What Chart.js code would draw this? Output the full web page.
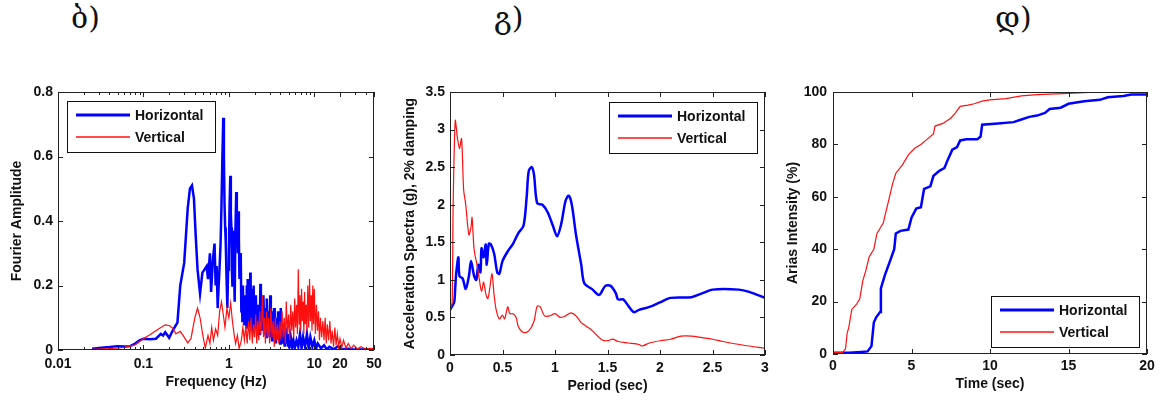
<!DOCTYPE html>
<html>
<head>
<meta charset="utf-8">
<script src="https://cdn.jsdelivr.net/npm/chart.js@4.4.1/dist/chart.umd.min.js"></script>
<style>
    body { margin: 0; background: #fff; width: 1160px; height: 401px; position: relative; overflow: hidden; }
    canvas { position: absolute; top: 0; }
    .tag { position: absolute; top: 0px; font-family: "DejaVu Serif", "DejaVu Sans", serif; font-size: 30px; color: #111; }
</style>
</head>
<body>
<div class="tag" style="left:71px">ბ)</div>
<div class="tag" style="left:494px">გ)</div>
<div class="tag" style="left:995px">დ)</div>
<canvas id="fourierChart" width="390" height="401" style="left:0px"></canvas>
<canvas id="spectraChart" width="390" height="401" style="left:390px"></canvas>
<canvas id="ariasChart" width="380" height="401" style="left:780px"></canvas>
<script>
// Fourier amplitude spectra (Hz, amplitude)
const fourierFreqH = [0.025, 0.03, 0.04, 0.05, 0.06, 0.07, 0.08, 0.09, 0.1, 0.12, 0.14, 0.16, 0.17, 0.18, 0.2, 0.22, 0.25, 0.27, 0.3, 0.33, 0.35, 0.37, 0.39, 0.41, 0.43, 0.46, 0.49, 0.52, 0.55, 0.57, 0.6, 0.62, 0.65, 0.68, 0.7, 0.72, 0.74,
    0.76, 0.78, 0.8, 0.82, 0.84, 0.86, 0.875, 0.89, 0.905, 0.92, 0.94, 0.96, 0.98, 1.0, 1.02, 1.04, 1.055, 1.07, 1.085, 1.1, 1.115, 1.13, 1.15, 1.17, 1.19, 1.22, 1.24, 1.26, 1.275, 1.29, 1.31, 1.33, 1.355, 1.38, 1.4,
    1.42, 1.44, 1.46, 1.48, 1.5, 1.52, 1.54, 1.56, 1.58, 1.6, 1.62, 1.64, 1.66, 1.68, 1.7, 1.72, 1.74, 1.76, 1.78, 1.8, 1.82, 1.84, 1.86, 1.88, 1.9, 1.92, 1.95, 1.98, 2.01, 2.04, 2.07, 2.1, 2.13, 2.16, 2.19, 2.22, 2.25, 2.28, 2.31, 2.34, 2.37, 2.4, 2.43, 2.46, 2.5, 2.54, 2.58, 2.62, 2.66, 2.7, 2.74, 2.78, 2.82, 2.86, 2.9, 2.95, 3.0,
    3.05, 3.1, 3.15, 3.2, 3.26, 3.32, 3.38, 3.44, 3.5, 3.56, 3.63, 3.7, 3.77, 3.84, 3.91, 3.98, 4.05, 4.12, 4.2, 4.3, 4.4, 4.5, 4.6, 4.7, 4.8, 4.9, 5.0,
    5.1, 5.3, 5.5, 5.7, 5.9, 6.2, 6.5, 6.8, 7.1, 7.4, 7.8, 8.2, 8.6, 9.0, 9.5, 10, 10.5, 11, 12, 13, 14, 15, 17, 19, 21, 25, 30, 40, 50];
const fourierAmpH = [0.004, 0.006, 0.009, 0.012, 0.011, 0.012, 0.02, 0.03, 0.035, 0.033, 0.035, 0.05, 0.045, 0.055, 0.038, 0.06, 0.085, 0.2, 0.27, 0.44, 0.5, 0.51, 0.47, 0.35, 0.25, 0.175, 0.24, 0.25, 0.26, 0.22, 0.3, 0.18, 0.28, 0.33, 0.2, 0.26, 0.13,
    0.2, 0.26, 0.33, 0.45, 0.6, 0.72, 0.6, 0.45, 0.38, 0.33, 0.22, 0.13, 0.25, 0.3, 0.45, 0.54, 0.42, 0.38, 0.25, 0.2, 0.33, 0.37, 0.25, 0.15, 0.35, 0.49, 0.4, 0.38, 0.3, 0.43, 0.35, 0.22, 0.3, 0.28, 0.12,
    0.16, 0.09, 0.2, 0.1, 0.15, 0.08, 0.17, 0.1, 0.13, 0.07, 0.2, 0.11, 0.22, 0.08, 0.15, 0.1, 0.18, 0.07, 0.24, 0.12, 0.16, 0.08, 0.19, 0.11, 0.15, 0.06, 0.2, 0.1, 0.14, 0.07, 0.17, 0.08, 0.13, 0.05, 0.14, 0.09, 0.12, 0.05, 0.11, 0.205, 0.08, 0.14, 0.06, 0.15, 0.07, 0.17, 0.08, 0.12, 0.05, 0.13, 0.04, 0.16, 0.07, 0.12, 0.05, 0.1, 0.04,
    0.17, 0.06, 0.1, 0.03, 0.12, 0.05, 0.13, 0.04, 0.09, 0.02, 0.1, 0.04, 0.12, 0.03, 0.08, 0.02, 0.13, 0.03, 0.07, 0.02, 0.06, 0.01, 0.07, 0.02, 0.05, 0.01, 0.04,
    0.005, 0.04, 0.01, 0.03, 0.005, 0.03, 0.01, 0.05, 0.005, 0.04, 0.01, 0.05, 0.005, 0.04, 0.01, 0.03, 0.005, 0.02, 0.005, 0.015, 0.002, 0.01, 0.002, 0.012, 0.002, 0.004, 0.001, 0.002, 0.001];
const fourierFreqV = [0.025, 0.04, 0.06, 0.08, 0.1, 0.12, 0.15, 0.18, 0.2, 0.22, 0.24, 0.27, 0.3, 0.33, 0.36, 0.4, 0.43, 0.46, 0.5, 0.53, 0.57, 0.6, 0.63, 0.66, 0.7, 0.74, 0.78, 0.82, 0.86, 0.9, 0.95, 1.0, 1.05, 1.1, 1.15, 1.2, 1.26, 1.32, 1.4,
    1.46, 1.52, 1.58, 1.64, 1.7, 1.76, 1.82, 1.88, 1.94, 2.0, 2.06, 2.12, 2.18, 2.24, 2.3, 2.36, 2.42, 2.48, 2.54, 2.6, 2.68, 2.76, 2.84, 2.92, 3.0, 3.1, 3.2, 3.3, 3.4, 3.5, 3.6, 3.72, 3.84, 3.96, 4.08, 4.2, 4.32, 4.45, 4.58, 4.7, 4.85, 5.0, 5.15, 5.3, 5.45, 5.6, 5.75, 5.9, 6.05, 6.2, 6.35, 6.5, 6.65, 6.8, 6.95, 7.1, 7.25, 7.4, 7.55, 7.7, 7.85, 8.0, 8.2, 8.4, 8.6, 8.8, 9.0, 9.2, 9.4, 9.6, 9.8, 10,
    10.3, 10.6, 10.9, 11.2, 11.5, 11.8, 12.2, 12.6, 13, 13.4, 13.8, 14.2, 14.7, 15.2, 15.7, 16.2, 16.8, 17.4, 18, 18.6, 19.3, 20, 21, 22, 23.5, 25, 27, 29, 32, 35, 40, 45, 50];
const fourierAmpV = [0.002, 0.004, 0.008, 0.016, 0.035, 0.048, 0.065, 0.078, 0.076, 0.068, 0.05, 0.058, 0.04, 0.022, 0.035, 0.1, 0.13, 0.1, 0.04, 0.006, 0.045, 0.02, 0.07, 0.03, 0.065, 0.045, 0.12, 0.15, 0.11, 0.07, 0.13, 0.1, 0.145, 0.09, 0.05, 0.02, 0.045, 0.005, 0.03,
    0.07, 0.03, 0.075, 0.02, 0.09, 0.03, 0.1, 0.02, 0.08, 0.04, 0.11, 0.02, 0.09, 0.03, 0.12, 0.05, 0.09, 0.17, 0.04, 0.1, 0.02, 0.12, 0.04, 0.1, 0.02, 0.13, 0.04, 0.09, 0.01, 0.1, 0.03, 0.08, 0.02, 0.09, 0.03, 0.12, 0.04, 0.1, 0.02, 0.15, 0.05, 0.11, 0.03, 0.14, 0.06, 0.12, 0.04, 0.16, 0.07, 0.14, 0.05, 0.25, 0.08, 0.17, 0.06, 0.19, 0.09, 0.15, 0.05, 0.18, 0.08, 0.14, 0.06, 0.2, 0.07, 0.22, 0.09, 0.17, 0.06, 0.2, 0.08, 0.19,
    0.05, 0.14, 0.06, 0.12, 0.03, 0.1, 0.04, 0.09, 0.03, 0.1, 0.02, 0.08, 0.03, 0.09, 0.02, 0.06, 0.01, 0.07, 0.015, 0.05, 0.01, 0.035, 0.008, 0.03, 0.006, 0.02, 0.004, 0.015, 0.003, 0.01, 0.003, 0.005, 0.004];
const freqTicks = [0.01, 0.1, 1, 10, 20, 50];
const freqMinorTicks = [0.02, 0.03, 0.04, 0.05, 0.06, 0.07, 0.08, 0.09, 0.2, 0.3, 0.4, 0.5, 0.6, 0.7, 0.8, 0.9, 2, 3, 4, 5, 6, 7, 8, 9, 30, 40];

// Acceleration response spectra, 2% damping (sec, g)
const spectraPeriodH = [0, 0.02, 0.04, 0.05, 0.06, 0.08, 0.09, 0.12, 0.15, 0.18, 0.2, 0.23, 0.25, 0.27, 0.29, 0.3, 0.32, 0.34, 0.35, 0.37, 0.39, 0.42, 0.45, 0.47, 0.5, 0.55, 0.6, 0.65, 0.7, 0.73, 0.75, 0.78, 0.8, 0.83, 0.88, 0.93, 0.98, 1.02, 1.06, 1.1, 1.13, 1.16, 1.2, 1.25, 1.28, 1.35, 1.42, 1.48, 1.53, 1.58, 1.6, 1.65, 1.7, 1.75, 1.8, 1.9, 2.0, 2.1, 2.3, 2.4, 2.5, 2.75, 2.85, 3.0];
const spectraAccH = [0.6, 0.65, 0.7, 0.9, 1.1, 1.3, 1.05, 1.02, 0.88, 1.05, 1.25, 1.05, 1.0, 1.2, 1.1, 1.42, 1.3, 1.47, 1.2, 1.48, 1.47, 1.35, 1.1, 1.08, 1.25, 1.38, 1.48, 1.62, 1.72, 2.1, 2.45, 2.5, 2.4, 2.02, 2.0, 1.9, 1.72, 1.58, 1.75, 2.05, 2.12, 2.0, 1.6, 1.2, 0.95, 0.88, 0.8, 0.92, 0.92, 0.82, 0.74, 0.74, 0.65, 0.57, 0.6, 0.64, 0.7, 0.76, 0.77, 0.82, 0.87, 0.87, 0.84, 0.76];
const spectraPeriodV = [0, 0.02, 0.03, 0.05, 0.07, 0.09, 0.11, 0.13, 0.15, 0.18, 0.2, 0.21, 0.23, 0.26, 0.28, 0.3, 0.32, 0.34, 0.36, 0.38, 0.4, 0.42, 0.44, 0.47, 0.5, 0.52, 0.55, 0.57, 0.6, 0.63, 0.65, 0.7, 0.75, 0.8, 0.83, 0.86, 0.9, 0.95, 1.0, 1.05, 1.1, 1.15, 1.2, 1.25, 1.3, 1.35, 1.4, 1.45, 1.5, 1.55, 1.6, 1.7, 1.8, 1.83, 1.9, 2.0, 2.1, 2.2, 2.3, 2.4, 2.5, 2.6, 2.8, 3.0];
const spectraAccV = [0.6, 0.7, 2.0, 3.12, 2.9, 2.75, 2.88, 2.2, 2.0, 1.6, 1.7, 1.83, 1.4, 1.18, 1.0, 0.85, 0.97, 0.82, 0.75, 0.9, 1.08, 0.8, 0.6, 0.48, 0.53, 0.48, 0.64, 0.55, 0.55, 0.5, 0.38, 0.3, 0.32, 0.45, 0.65, 0.64, 0.52, 0.52, 0.55, 0.5, 0.52, 0.56, 0.52, 0.43, 0.38, 0.33, 0.26, 0.2, 0.19, 0.21, 0.18, 0.16, 0.14, 0.12, 0.16, 0.19, 0.21, 0.25, 0.25, 0.23, 0.21, 0.18, 0.13, 0.09];

// Cumulative Arias intensity (sec, %)
const ariasTimeH = [0, 1, 1.8, 2.2, 2.45, 2.6, 2.75, 3.0, 3.05, 3.3, 3.6, 3.9, 4.0, 4.3, 4.8, 5.0, 5.3, 5.6, 5.8, 6.2, 6.4, 6.8, 7.1, 7.3, 7.6, 7.9, 8.1, 8.5, 9.2, 9.4, 9.5, 10.5, 11.5, 12, 12.5, 13, 13.5, 13.8, 14.5, 15, 16, 17, 17.5, 18.5, 19, 20];
const ariasPctH = [0.5, 0.5, 0.8, 1, 3, 12, 14, 16, 25, 30, 35, 40, 46, 47, 47.5, 52, 55.5, 56, 63, 64, 68, 70, 71, 74, 78, 79, 81.5, 82, 82, 83, 87.5, 88, 88.5, 89.5, 90.5, 91, 92, 93.5, 94, 95.5, 96.5, 97, 98, 98.5, 99, 99];
const ariasTimeV = [0, 0.6, 0.8, 0.9, 1.0, 1.2, 1.5, 1.7, 1.9, 2.1, 2.3, 2.6, 2.8, 3.0, 3.2, 3.4, 3.6, 3.8, 4.0, 4.4, 4.8, 5.2, 5.6, 6.0, 6.4, 6.5, 7.0, 7.5, 7.8, 8.1, 8.6, 9, 9.5, 10, 11, 12, 13, 15, 17, 20];
const ariasPctV = [0.5, 0.5, 2, 8, 10, 17, 19, 21, 28, 32, 37, 40, 46, 48, 50, 55, 60, 65, 69, 72, 76, 78.5, 80, 82, 84, 87, 88, 90, 92, 94.5, 95, 95.5, 96.5, 97, 97.5, 98.5, 99, 99.5, 100, 100];

const seriesNames = ["Horizontal", "Vertical"];
const H = 401;

Chart.defaults.font.family = '"Liberation Sans", Arial, sans-serif';
Chart.defaults.font.weight = "bold";
Chart.defaults.font.size = 14;
Chart.defaults.color = "#111";

function zip(xs, ys) {
    return xs.map((x, i) => ({ x: x, y: ys[i] }));
}

// plain number labels: 1 rather than 1.0
const plainLabel = v => String(Math.round(v * 100) / 100);

// box round the plot, inward ticks on all sides, legend drawn inside the axes
const frameBox = {
    id: "frameBox",
    afterDatasetsDraw(chart, args, opts) {
        const ctx = chart.ctx;
        const a = chart.chartArea;
        const xs = chart.scales.x, ys = chart.scales.y;
        ctx.save();
        ctx.strokeStyle = "#222";
        ctx.lineWidth = 1;
        ctx.beginPath();
        const xMark = (v, len) => {
            const px = Math.round(xs.getPixelForValue(v)) + 0.5;
            ctx.moveTo(px, a.bottom); ctx.lineTo(px, a.bottom - len);
            ctx.moveTo(px, a.top); ctx.lineTo(px, a.top + len);
        };
        const yMark = (v, len) => {
            const py = Math.round(ys.getPixelForValue(v)) + 0.5;
            ctx.moveTo(a.left, py); ctx.lineTo(a.left + len, py);
            ctx.moveTo(a.right, py); ctx.lineTo(a.right - len, py);
        };
        xs.ticks.forEach(t => xMark(t.value, 5));
        (opts.minorX || []).forEach(v => xMark(v, 3));
        ys.ticks.forEach(t => yMark(t.value, 5));
        ctx.stroke();
        ctx.strokeRect(a.left + 0.5, a.top + 0.5, a.right - a.left - 1, a.bottom - a.top - 1);

        const w = 148, h = 51;
        let bx = a.left + 9, by = a.top + 9;
        if (opts.corner === "tr") { bx = a.right - 8 - w; by = a.top + 10; }
        if (opts.corner === "br") { bx = a.right - 8 - w; by = a.bottom - 7 - h; }
        ctx.fillStyle = "#fff";
        ctx.fillRect(bx, by, w, h);
        ctx.strokeStyle = "#111";
        ctx.strokeRect(bx + 0.5, by + 0.5, w, h);
        ctx.font = 'bold 14px "Liberation Sans", Arial, sans-serif';
        ctx.textBaseline = "middle";
        chart.data.datasets.forEach((ds, i) => {
            const ly = by + 14 + i * 22;
            ctx.beginPath();
            ctx.strokeStyle = ds.borderColor;
            ctx.lineWidth = ds.borderWidth + 0.5;
            ctx.moveTo(bx + 9, ly); ctx.lineTo(bx + 63, ly);
            ctx.stroke();
            ctx.fillStyle = "#111";
            ctx.fillText(ds.label, bx + 68, ly + 1);
        });
        ctx.restore();
    }
};

function makeChart(id, frame, series, xScale, yScale, extra) {
    const ctx = document.getElementById(id).getContext("2d");
    return new Chart(ctx, {
        type: "line",
        data: {
            datasets: [
                { label: seriesNames[0], data: series[0], borderColor: "#0000ff", borderWidth: 2.5, order: 1 },
                { label: seriesNames[1], data: series[1], borderColor: "#ff1010", borderWidth: 1.2, order: 0 },
            ],
        },
        options: {
            responsive: false,
            animation: false,
            devicePixelRatio: 1,
            elements: { point: { radius: 0 }, line: { tension: frame.tension || 0 } },
            layout: { padding: { left: 0, top: frame.top, right: frame.width - (frame.right - frame.canvasLeft), bottom: 0 } },
            plugins: {
                legend: { display: false },
                tooltip: { enabled: false },
                frameBox: extra,
            },
            scales: {
                x: Object.assign({
                    grid: { display: false, drawTicks: false },
                    border: { display: false },
                    afterFit: s => { s.height = H - frame.bottom; },
                }, xScale),
                y: Object.assign({
                    grid: { display: false, drawTicks: false },
                    border: { display: false },
                    afterFit: s => { s.width = frame.left - frame.canvasLeft; },
                }, yScale),
            },
        },
        plugins: [frameBox],
    });
}

makeChart("fourierChart",
    { canvasLeft: 0, width: 390, left: 58, right: 374, top: 92, bottom: 350 },
    [zip(fourierFreqH, fourierAmpH), zip(fourierFreqV, fourierAmpV)],
    {
        type: "logarithmic", min: 0.01, max: 50,
        afterBuildTicks: s => { s.ticks = freqTicks.map(v => ({ value: v })); },
        ticks: { padding: 6, maxRotation: 0, autoSkip: false, callback: v => String(v) },
        title: { display: true, text: "Frequency (Hz)", padding: { top: 0, bottom: 10 } },
    },
    {
        min: 0, max: 0.8,
        ticks: { stepSize: 0.2, padding: 5, callback: plainLabel },
        title: { display: true, text: "Fourier Amplitude", padding: { top: 9, bottom: 0 } },
    },
    { corner: "tl", minorX: freqMinorTicks });

makeChart("spectraChart",
    { canvasLeft: 390, width: 390, left: 450, right: 765, top: 92, bottom: 355, tension: 0.3 },
    [zip(spectraPeriodH, spectraAccH), zip(spectraPeriodV, spectraAccV)],
    {
        type: "linear", min: 0, max: 3,
        ticks: { stepSize: 0.5, padding: 5, maxRotation: 0, callback: plainLabel },
        title: { display: true, text: "Period (sec)", padding: { top: 0, bottom: 6 } },
    },
    {
        min: 0, max: 3.5,
        ticks: { stepSize: 0.5, padding: 5, callback: plainLabel },
        title: { display: true, text: "Acceleration Spectra (g), 2% damping", padding: { top: 12, bottom: 0 } },
    },
    { corner: "tr" });

makeChart("ariasChart",
    { canvasLeft: 780, width: 380, left: 833, right: 1147, top: 92, bottom: 354 },
    [zip(ariasTimeH, ariasPctH), zip(ariasTimeV, ariasPctV)],
    {
        type: "linear", min: 0, max: 20,
        ticks: { stepSize: 5, padding: 4, maxRotation: 0, callback: plainLabel },
        title: { display: true, text: "Time (sec)", padding: { top: 0, bottom: 8 } },
    },
    {
        min: 0, max: 100,
        ticks: { stepSize: 20, padding: 6, callback: plainLabel },
        title: { display: true, text: "Arias Intensity (%)", padding: { top: 5, bottom: 0 } },
    },
    { corner: "br" });
</script>
</body>
</html>
